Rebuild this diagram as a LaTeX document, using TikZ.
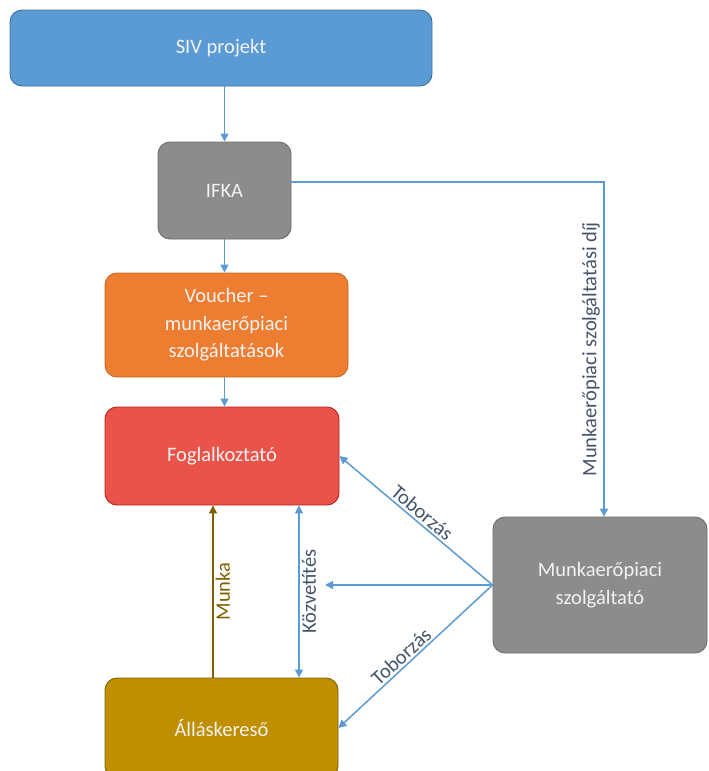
\documentclass[tikz,border=0pt]{standalone}
\usepackage{fontspec}
\setmainfont{Carlito}
\usepackage{tikz}
\usetikzlibrary{arrows.meta}

\definecolor{sivblue}{HTML}{5B9BD5}
\definecolor{sivline}{HTML}{41719C}
\definecolor{ifkagray}{HTML}{8C8C8C}
\definecolor{grayline}{HTML}{6E6E6E}
\definecolor{vouchorange}{HTML}{ED7D31}
\definecolor{orangeline}{HTML}{C9651F}
\definecolor{foglred}{HTML}{EA5349}
\definecolor{redline}{HTML}{B82020}
\definecolor{allasgold}{HTML}{BF8F00}
\definecolor{goldline}{HTML}{806000}
\definecolor{munkabrown}{HTML}{7F6000}
\definecolor{labelblue}{HTML}{44546A}

\tikzset{
  box/.style={rounded corners=12pt, inner sep=0pt, align=center, line width=0.9pt,
    text=white!95!black, font=\fontsize{20.5}{27.5}\selectfont},
  flow/.style={->, >={Triangle[length=8pt,width=8pt]}, line width=1.5pt, draw=sivblue},
  flowlabel/.style={text=labelblue, font=\fontsize{20.5}{24}\selectfont}
}

\begin{document}
\begin{tikzpicture}[x=1pt, y=-1pt]
\useasboundingbox (0,0) rectangle (709,771);
\node[box, fill=sivblue, draw=sivline, minimum width=422pt, minimum height=76pt] (siv) at (221,48) {SIV projekt};
\node[box, fill=ifkagray, draw=grayline, minimum width=133pt, minimum height=97pt] (ifka) at (224.5,190.5) {IFKA};
\node[box, fill=vouchorange, draw=orangeline, minimum width=243pt, minimum height=104pt] (voucher) at (226.5,325) {Voucher --\\munkaerőpiaci\\szolgáltatások};
\node[box, fill=foglred, draw=redline, minimum width=234pt, minimum height=98pt] (fogl) at (222,456) {Foglalkoztató};
\node[box, fill=ifkagray, draw=grayline, minimum width=214pt, minimum height=136pt] (mps) at (600,585) {Munkaerőpiaci\\szolgáltató};
\node[box, fill=allasgold, draw=goldline, minimum width=233pt, minimum height=100pt] (allas) at (221.5,728) {Álláskereső};

\coordinate (bend) at (604,182);
\coordinate (kozv) at (299,0);
\coordinate (munka) at (213,0);
\coordinate (mid) at (325,585);

\draw[flow] (ifka.north |- siv.south) -- (ifka.north);
\draw[flow] (ifka.south) -- (ifka.south |- voucher.north);
\draw[flow] (ifka.south |- voucher.south) -- (ifka.south |- fogl.north);
\draw[flow] (ifka.east |- bend) -- (bend) -- node[flowlabel, midway, rotate=90, anchor=south] {Munkaerőpiaci szolgáltatási díj} (bend |- mps.north);
\draw[flow] (mps.west) -- node[flowlabel, pos=0.5, rotate=-40, anchor=south, inner sep=2pt] {Toborzás} (fogl.east);
\draw[flow] (mps.west) -- (mid);
\draw[flow] (mps.west) -- node[flowlabel, pos=0.55, rotate=42.5, anchor=south, inner sep=2pt] {Toborzás} (allas.east);
\draw[flow, <->] (kozv |- fogl.south) -- node[flowlabel, midway, rotate=90, anchor=north, inner sep=2pt] {Közvetítés} (kozv |- allas.north);
\draw[flow, draw=munkabrown] (munka |- allas.north) -- node[midway, rotate=90, anchor=north, inner sep=2pt, text=munkabrown, font=\fontsize{20.5}{24}\selectfont] {Munka} (munka |- fogl.south);
\end{tikzpicture}
\end{document}
